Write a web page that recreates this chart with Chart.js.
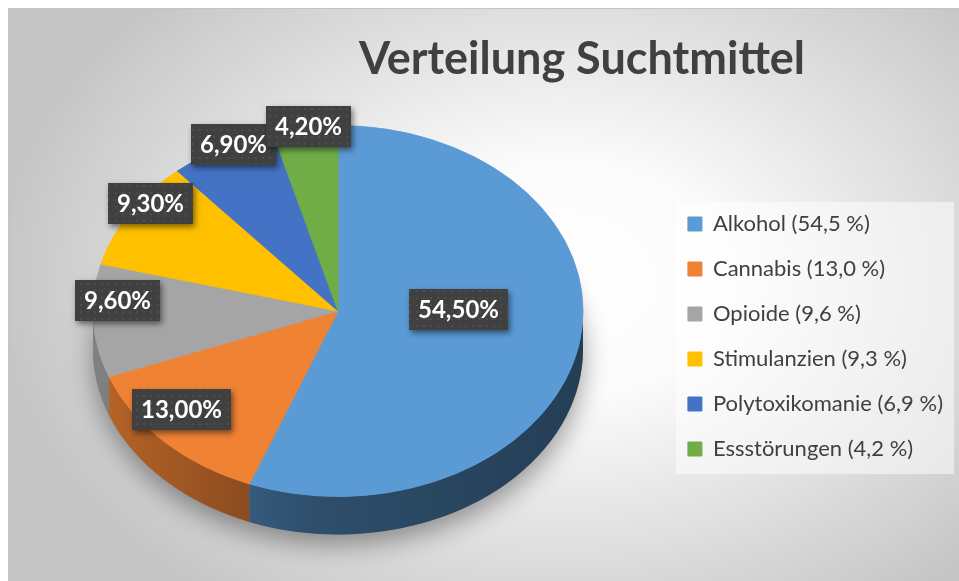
<!DOCTYPE html>
<html lang="de">
<head>
<meta charset="utf-8">
<title>Verteilung Suchtmittel</title>
<script src="https://cdn.jsdelivr.net/npm/chart.js@4.4.1/dist/chart.umd.min.js"></script>
<style>
  html, body { margin: 0; padding: 0; background: #fff; }
  #wrap { position: relative; width: 959px; height: 581px; }
</style>
</head>
<body>
<div id="wrap"><canvas id="chart"></canvas></div>
<script>
// data
const categories = ['Alkohol', 'Cannabis', 'Opioide', 'Stimulanzien', 'Polytoxikomanie', 'Essstörungen'];
const shares = [54.5, 13.0, 9.6, 9.3, 6.9, 4.2];
const colors = ['#5B9BD5', '#F08234', '#A5A5A5', '#FFC000', '#4472C4', '#70AD47'];
const chartTitle = 'Verteilung Suchtmittel';

const de1 = v => v.toFixed(1).replace('.', ',');
const de2 = v => v.toFixed(2).replace('.', ',');
const legendLabels = categories.map((c, i) => `${c} (${de1(shares[i])} %)`);

// 3d look: flattened pie + side wall
const TILT = 0.757;
const DEPTH = 38;
const CENTER_X = 338;
const CENTER_Y = 311;
const LEGEND_SHIFT = 6;
const FONT = 'Lato, "Open Sans", sans-serif';

function shade(hex, f) {
  const n = parseInt(hex.slice(1), 16);
  const r = Math.round(((n >> 16) & 255) * f), g = Math.round(((n >> 8) & 255) * f), b = Math.round((n & 255) * f);
  return `rgb(${r},${g},${b})`;
}

// small dotted texture for the label boxes
const dotCanvas = document.createElement('canvas');
dotCanvas.width = 7; dotCanvas.height = 7;
const dctx = dotCanvas.getContext('2d');
dctx.fillStyle = 'rgba(255,255,255,0.07)';
dctx.fillRect(3, 3, 2, 2);

const backdrop = {
  id: 'backdrop',
  afterLayout(chart) {
    // nudge the legend a bit to the left, like the original
    const lg = chart.legend;
    if (lg) { lg.left -= LEGEND_SHIFT; lg.right -= LEGEND_SHIFT; }
  },
  beforeDraw(chart) {
    const { ctx, width, height } = chart;
    ctx.save();
    ctx.fillStyle = '#fff';
    ctx.fillRect(0, 0, width, height);

    // elliptical white-to-gray gradient
    const gx = 560, gy = 280, rx = 560, s = 400 / 560;
    ctx.save();
    ctx.translate(gx, gy);
    ctx.scale(1, s);
    const g = ctx.createRadialGradient(0, 0, 0, 0, 0, rx);
    g.addColorStop(0, '#ffffff');
    g.addColorStop(0.3, '#fbfbfb');
    g.addColorStop(1, '#c6c6c6');
    ctx.fillStyle = g;
    ctx.fillRect(8 - gx, (8 - gy) / s, width - 8, (height - 8) / s);
    ctx.restore();

    ctx.strokeStyle = '#c4c4c4';
    ctx.lineWidth = 1;
    ctx.beginPath();
    ctx.moveTo(8.5, height); ctx.lineTo(8.5, 8.5); ctx.lineTo(width, 8.5);
    ctx.stroke();

    // legend panel
    const lg = chart.legend;
    if (lg && lg.legendHitBoxes && lg.legendHitBoxes.length) {
      const hb = lg.legendHitBoxes;
      const last = hb[hb.length - 1];
      const top = hb[0].top - 11, bottom = last.top + last.height + 14;
      const left = hb[0].left - 12;
      ctx.fillStyle = 'rgba(255,255,255,0.5)';
      ctx.fillRect(left, top, width - 5 - left, bottom - top);
    }

    // title
    ctx.fillStyle = '#404040';
    ctx.font = `bold 45px ${FONT}`;
    ctx.textAlign = 'center';
    ctx.textBaseline = 'alphabetic';
    ctx.fillText(chartTitle, 582, 74);
    ctx.restore();
  }
};

let pieTransformed = false;
const pie3d = {
  id: 'pie3d',
  beforeDatasetsDraw(chart) {
    const { ctx } = chart;
    const arcs = chart.getDatasetMeta(0).data;
    if (!arcs.length) return;
    const { x, y, outerRadius } = arcs[0];
    const rx = outerRadius, ry = outerRadius * TILT;

    // soft shadow under the pie
    ctx.save();
    ctx.shadowColor = 'rgba(0,0,0,0.38)';
    ctx.shadowBlur = 26;
    ctx.shadowOffsetY = 10;
    ctx.fillStyle = '#7f7f7f';
    ctx.beginPath();
    ctx.ellipse(CENTER_X, CENTER_Y + DEPTH, rx, ry, 0, 0, Math.PI * 2);
    ctx.fill();
    ctx.restore();

    // side wall, only the front half is visible
    arcs.forEach((arc, i) => {
      const a0 = Math.max(arc.startAngle, 0), a1 = Math.min(arc.endAngle, Math.PI);
      if (a1 <= a0) return;
      const g = ctx.createLinearGradient(CENTER_X - rx, 0, CENTER_X + rx, 0);
      g.addColorStop(0, shade(colors[i], 0.78));
      g.addColorStop(0.45, shade(colors[i], 0.5));
      g.addColorStop(1, shade(colors[i], 0.4));
      ctx.fillStyle = g;
      ctx.beginPath();
      ctx.ellipse(CENTER_X, CENTER_Y, rx, ry, 0, a0, a1);
      ctx.ellipse(CENTER_X, CENTER_Y + DEPTH, rx, ry, 0, a1, a0, true);
      ctx.closePath();
      ctx.fill();
    });

    // squash the top face
    ctx.save();
    ctx.translate(CENTER_X, CENTER_Y);
    ctx.scale(1, TILT);
    ctx.translate(-x, -y);
    pieTransformed = true;
  },
  afterDatasetsDraw(chart) {
    const { ctx } = chart;
    if (pieTransformed) { ctx.restore(); pieTransformed = false; }
    const arcs = chart.getDatasetMeta(0).data;
    const total = shares.reduce((a, b) => a + b, 0);
    const dots = ctx.createPattern(dotCanvas, 'repeat');
    ctx.save();
    ctx.font = `bold 24px ${FONT}`;
    ctx.textAlign = 'center';
    ctx.textBaseline = 'middle';
    arcs.forEach((arc, i) => {
      const mid = (arc.startAngle + arc.endAngle) / 2;
      const f = shares[i] / total > 0.25 ? 0.5 : 0.9;
      const lx = CENTER_X + Math.cos(mid) * arc.outerRadius * f;
      const ly = CENTER_Y + Math.sin(mid) * arc.outerRadius * TILT * f - 19;
      const text = de2(shares[i]) + '%';
      const w = Math.round(ctx.measureText(text).width + 18), h = 41;
      const bx = Math.round(lx - w / 2), by = Math.round(ly - h / 2);
      ctx.save();
      ctx.shadowColor = 'rgba(0,0,0,0.5)';
      ctx.shadowBlur = 6;
      ctx.shadowOffsetX = 2;
      ctx.shadowOffsetY = 3;
      ctx.fillStyle = '#404040';
      ctx.fillRect(bx, by, w, h);
      ctx.restore();
      ctx.fillStyle = dots;
      ctx.fillRect(bx, by, w, h);
      ctx.fillStyle = '#ffffff';
      ctx.fillText(text, bx + w / 2, by + h / 2 + 1);
    });
    ctx.restore();
  }
};

new Chart(document.getElementById('chart'), {
  type: 'pie',
  data: {
    labels: legendLabels,
    datasets: [{
      data: shares,
      backgroundColor: colors,
      borderColor: colors,
      borderWidth: 1,
      radius: 245,
      clip: false
    }]
  },
  options: {
    responsive: true,
    maintainAspectRatio: false,
    animation: false,
    events: [],
    layout: { padding: { left: 14, top: 92, right: 0, bottom: 0 } },
    plugins: {
      title: { display: false },
      tooltip: { enabled: false },
      legend: {
        position: 'right',
        labels: {
          boxWidth: 14,
          boxHeight: 14,
          padding: 23,
          color: '#404040',
          font: { family: FONT, size: 22 }
        }
      }
    }
  },
  plugins: [backdrop, pie3d]
});
</script>
</body>
</html>
